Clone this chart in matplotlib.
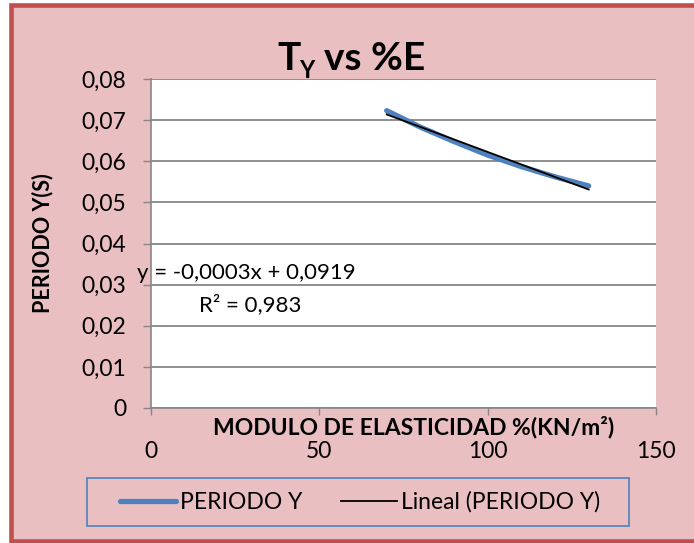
import matplotlib
matplotlib.use("Agg")
import matplotlib.pyplot as plt
import numpy as np
from matplotlib.patches import Rectangle
from matplotlib.lines import Line2D

# ---- data ----
modulo = [70, 80, 90, 100, 110, 120, 130]
periodo_y = [0.0723, 0.0683, 0.0648, 0.0615, 0.0587, 0.0562, 0.0540]
x_ticks = [0, 50, 100, 150]
y_ticks = [0, 0.01, 0.02, 0.03, 0.04, 0.05, 0.06, 0.07, 0.08]
y_tick_labels = ["0", "0,01", "0,02", "0,03", "0,04", "0,05", "0,06", "0,07", "0,08"]
title_main = "T"
title_sub = "Y"
title_rest = "vs %E"
xlabel = "MODULO DE ELASTICIDAD %(KN/m²)"
ylabel = "PERIODO Y(S)"
eq_text = "y = -0,0003x + 0,0919"
r2_text = "R² = 0,983"
legend_labels = ["PERIODO Y", "Lineal (PERIODO Y)"]

FONT = "Lato"
plt.rcParams["font.family"] = [FONT, "DejaVu Sans"]

W, H = 694, 543
fig = plt.figure(figsize=(W / 100, H / 100), dpi=100)
fig.patch.set_facecolor("white")

def fx(px):
    return px / W

def fy(py):
    return 1 - py / H

# pink background
bg = Rectangle((fx(11), fy(540.5)), 1.0 - fx(11), fy(5) - fy(540.5),
               transform=fig.transFigure, facecolor="#E9BFC2",
               edgecolor="none", zorder=-10)
fig.patches.append(bg)
# red border on top, left, bottom (right side runs off the image)
border = Line2D([1.0, fx(11), fx(11), 1.0], [fy(5), fy(5), fy(540.5), fy(540.5)],
                transform=fig.transFigure, color="#C0504D", lw=3.3,
                solid_joinstyle="miter", zorder=-9)
fig.lines.append(border)

ax = fig.add_axes([fx(151), fy(408), fx(656) - fx(151), fy(79) - fy(408)])
ax.set_facecolor("white")

blue = "#4F81BD"
grid_c = "#868686"

ax.plot(modulo, periodo_y, color=blue, lw=3.8, solid_capstyle="round", zorder=3)
coef = np.polyfit(modulo, periodo_y, 1)
xs = np.array([modulo[0], modulo[-1]])
ax.plot(xs, np.polyval(coef, xs), color="black", lw=1.3, zorder=4)

ax.set_xlim(0, 150)
ax.set_ylim(0, 0.08)
ax.set_xticks(x_ticks)
ax.set_xticklabels([str(v) for v in x_ticks])
ax.set_yticks(y_ticks)
ax.set_yticklabels(y_tick_labels)
ax.yaxis.grid(True, color=grid_c, lw=1.3)
ax.set_axisbelow(True)
for s in ["top", "right"]:
    ax.spines[s].set_visible(False)
for s in ["left", "bottom"]:
    ax.spines[s].set_color(grid_c)
    ax.spines[s].set_linewidth(1.2)
ax.tick_params(axis="y", length=5.8, width=1, color=grid_c, pad=12, labelsize=16.5)
ax.tick_params(axis="x", length=5, width=1, color=grid_c, pad=19, labelsize=16.5)

# title built from pieces (T with subscript Y)
fig.canvas.draw()
renderer = fig.canvas.get_renderer()
t1 = fig.text(fx(277), fy(70), title_main, ha="left", va="baseline",
              fontsize=28, fontweight="bold")
bb = t1.get_window_extent(renderer)
t2 = fig.text(bb.x1 / W - fx(1), fy(78), title_sub, ha="left", va="baseline",
              fontsize=17, fontweight="bold")
bb2 = t2.get_window_extent(renderer)
fig.text(bb2.x1 / W + fx(9), fy(70), title_rest, ha="left", va="baseline",
         fontsize=28, fontweight="bold")

# axis labels
fig.text(fx(414), fy(427), xlabel, ha="center", va="center",
         fontsize=16.5, fontweight="bold")
fig.text(fx(43), fy(243), ylabel, ha="center", va="center", rotation=90,
         fontsize=15.5, fontweight="bold")

# trendline equation
fig.text(fx(137), fy(273), eq_text, ha="left", va="center", fontsize=16)
fig.text(fx(199), fy(305), r2_text, ha="left", va="center", fontsize=16)

# legend
frame = Rectangle((fx(87), fy(526)), fx(629) - fx(87), fy(478) - fy(526),
                  transform=fig.transFigure, facecolor="none",
                  edgecolor=blue, linewidth=1.2)
fig.patches.append(frame)
handles = [Line2D([], [], color=blue, lw=3.8, solid_capstyle="round"),
           Line2D([], [], color="black", lw=1.3)]
leg = fig.legend(handles, legend_labels, loc="center",
                 bbox_to_anchor=(fx(360), fy(502)), ncol=2, frameon=False,
                 fontsize=16.5, handlelength=2.45, handletextpad=0.17,
                 columnspacing=1.66)

fig.savefig("out.png", dpi=100)
